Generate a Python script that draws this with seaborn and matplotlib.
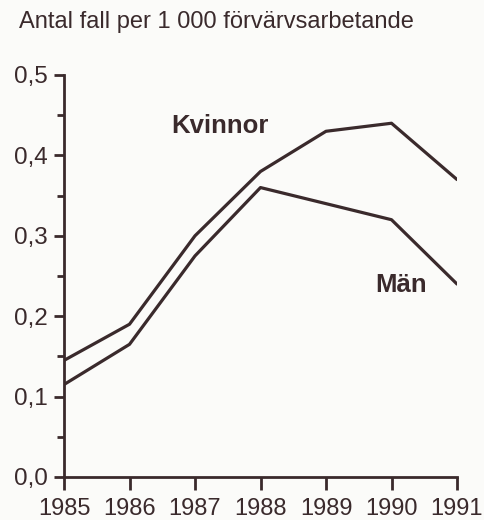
import matplotlib
matplotlib.use("Agg")
import matplotlib.pyplot as plt
import seaborn as sns
import pandas as pd
from matplotlib.ticker import MultipleLocator, FuncFormatter

years = [1985, 1986, 1987, 1988, 1989, 1990, 1991]
kvinnor = [0.145, 0.19, 0.30, 0.38, 0.43, 0.44, 0.37]
man = [0.115, 0.165, 0.275, 0.36, 0.34, 0.32, 0.24]
series_names = ["Kvinnor", "Män"]

df = pd.DataFrame({
    "år": years * 2,
    "värde": kvinnor + man,
    "grupp": [series_names[0]] * len(years) + [series_names[1]] * len(years),
})

sns.set_theme(style="ticks")
plt.rcParams["font.family"] = ["Liberation Sans", "DejaVu Sans"]

ink = "#3a2a2c"
bg = "#fbfbf9"

fig = plt.figure(figsize=(4.85, 5.2), dpi=100, facecolor=bg)
ax = fig.add_axes([64 / 485, 1 - 477 / 520, (457 - 64) / 485, (477 - 75) / 520])
ax.set_facecolor(bg)

sns.lineplot(data=df, x="år", y="värde", hue="grupp",
             palette={series_names[0]: ink, series_names[1]: ink},
             linewidth=2.3, legend=False, ax=ax)

ax.set_xlim(years[0], years[-1])
ax.set_ylim(0, 0.5)
ax.set_xticks(years)
ax.yaxis.set_major_locator(MultipleLocator(0.1))
ax.yaxis.set_minor_locator(MultipleLocator(0.05))
ax.yaxis.set_major_formatter(FuncFormatter(lambda v, p: f"{v:.1f}".replace(".", ",")))
ax.set_xlabel("")
ax.set_ylabel("")

for side in ("top", "right"):
    ax.spines[side].set_visible(False)
for side in ("left", "bottom"):
    ax.spines[side].set_color(ink)
    ax.spines[side].set_linewidth(2.0)

ax.tick_params(axis="y", which="major", length=7.5, width=2.0, color=ink,
               labelsize=17.5, labelcolor=ink, pad=4)
ax.tick_params(axis="y", which="minor", length=5, width=2.0, color=ink)
ax.tick_params(axis="x", which="major", length=9.5, width=2.0, color=ink,
               labelsize=17, labelcolor=ink, pad=5.5)

ax.text(1987.38, 0.437, series_names[0], ha="center", va="center",
        fontsize=18.5, fontweight="bold", color=ink)
ax.text(1990.15, 0.239, series_names[1], ha="center", va="center",
        fontsize=18.5, fontweight="bold", color=ink)

fig.text(19 / 485, 1 - 22 / 520, "Antal fall per 1 000 förvärvsarbetande",
         ha="left", va="center", fontsize=17, color=ink)

fig.savefig("out.png", dpi=100, facecolor=bg)
